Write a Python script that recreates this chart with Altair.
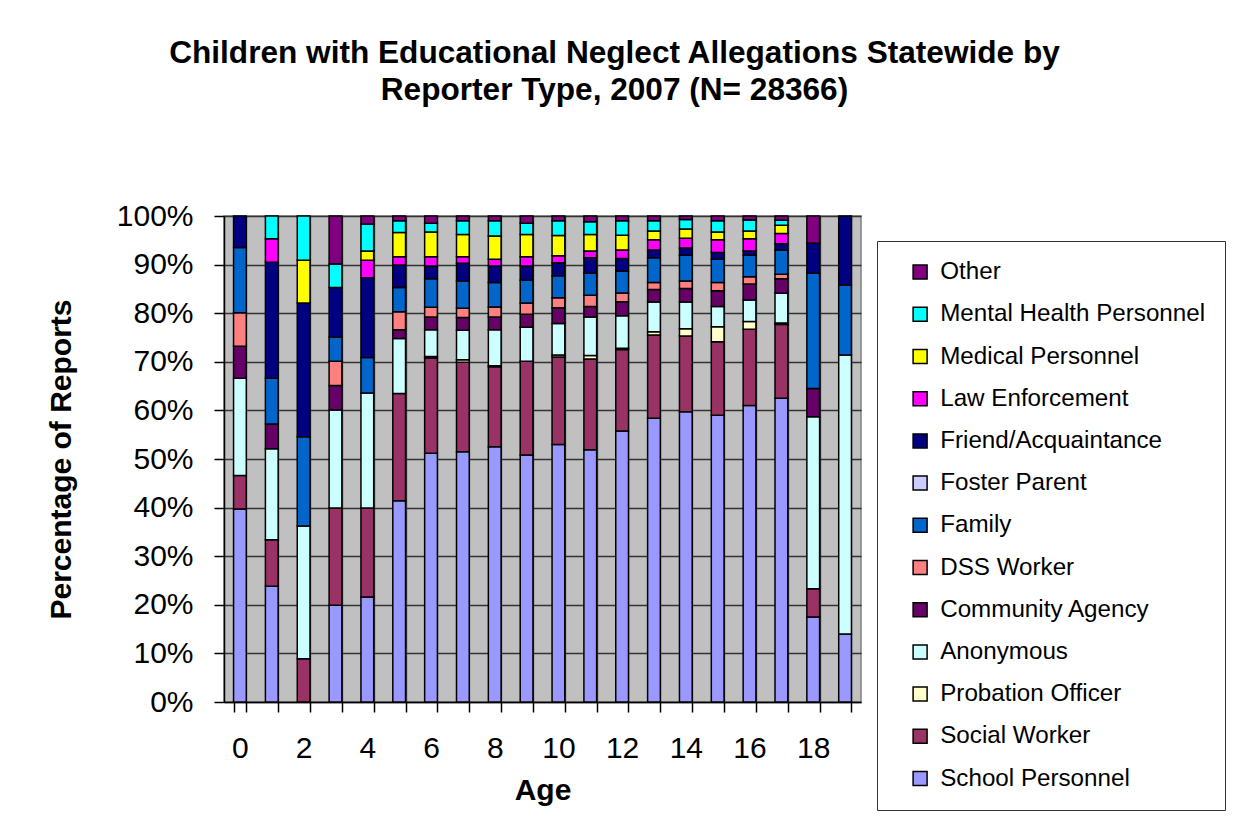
import altair as alt
import pandas as pd

ages = list(range(20))

school    = [39.7, 23.8, 0, 19.9, 21.6, 41.4, 51.2, 51.5, 52.5, 50.8, 53.0, 51.9, 56.0, 58.4, 59.7, 59.0, 61.0, 62.5, 17.5, 14.0]
social    = [6.9, 9.6, 8.9, 20.0, 18.3, 22.1, 19.6, 18.4, 16.5, 19.3, 18.0, 18.7, 16.8, 17.1, 15.6, 15.1, 15.7, 15.2, 5.8, 0]
probation = [0, 0, 0, 0, 0, 0, 0.3, 0.5, 0.2, 0, 0.4, 0.7, 0.3, 0.7, 1.5, 3.1, 1.6, 0.3, 0, 0]
anonymous = [20.0, 18.7, 27.3, 20.2, 23.7, 11.3, 5.5, 6.1, 7.4, 7.0, 6.5, 7.9, 6.7, 6.1, 5.5, 4.2, 4.4, 6.1, 35.4, 57.4]
community = [6.6, 5.1, 0, 5.0, 0, 1.8, 2.6, 2.6, 2.6, 2.7, 3.2, 2.2, 2.9, 2.6, 2.8, 3.2, 3.3, 3.0, 5.8, 0]
dss       = [6.9, 0, 0, 5.0, 0, 3.7, 2.0, 1.9, 2.1, 2.3, 2.1, 2.3, 1.8, 1.4, 1.5, 1.7, 1.5, 0.9, 0, 0]
family    = [13.4, 9.4, 18.4, 5.0, 7.3, 5.0, 5.9, 5.6, 5.0, 4.7, 4.5, 4.5, 4.5, 5.1, 5.3, 4.8, 4.4, 5.0, 23.7, 14.4]
foster    = [0] * 20
friend    = [6.5, 23.9, 27.5, 10.2, 16.4, 4.6, 2.6, 3.7, 3.4, 2.9, 2.7, 3.2, 2.6, 1.6, 1.5, 1.4, 0.9, 1.3, 6.2, 14.2]
law       = [0, 4.8, 0, 0, 3.6, 1.7, 1.9, 1.3, 1.4, 1.9, 1.4, 1.4, 1.8, 2.1, 2.0, 2.6, 2.5, 2.1, 0, 0]
medical   = [0, 0, 8.8, 0, 1.9, 5.0, 5.1, 4.6, 4.8, 4.6, 4.2, 3.4, 3.0, 1.8, 1.9, 1.6, 1.6, 1.7, 0, 0]
mental    = [0, 4.7, 9.1, 4.8, 5.5, 2.4, 1.8, 2.8, 3.1, 2.3, 3.0, 2.6, 3.0, 2.1, 2.0, 2.3, 2.3, 1.0, 0, 0]
other     = [0, 0, 0, 9.9, 1.7, 1.0, 1.5, 1.0, 1.0, 1.5, 1.0, 1.2, 1.0, 1.0, 0.7, 1.0, 0.8, 0.9, 5.6, 0]

# stacking order, bottom to top
series_names = ["School Personnel", "Social Worker", "Probation Officer", "Anonymous",
                "Community Agency", "DSS Worker", "Family", "Foster Parent",
                "Friend/Acquaintance", "Law Enforcement", "Medical Personnel",
                "Mental Health Personnel", "Other"]
series_values = [school, social, probation, anonymous, community, dss, family, foster,
                 friend, law, medical, mental, other]
series_colors = ["#9999FF", "#993366", "#FFFFCC", "#CCFFFF", "#660066", "#FF8080",
                 "#0066CC", "#CCCCFF", "#000080", "#FF00FF", "#FFFF00", "#00FFFF", "#800080"]

rows = []
for idx, (name, vals) in enumerate(zip(series_names, series_values)):
    for age, v in zip(ages, vals):
        if v > 0:
            rows.append({"age": age, "reporter": name, "value": v, "idx": idx})
df = pd.DataFrame(rows)

legend_domain = series_names[::-1]
legend_range = series_colors[::-1]

font = "Liberation Sans"

chart = alt.Chart(df).mark_bar(stroke="black", strokeWidth=1.5).encode(
    x=alt.X("age:O",
            scale=alt.Scale(paddingInner=0.6, paddingOuter=0.3),
            axis=alt.Axis(title="Age", labelAngle=0, tickBand="extent", grid=True,
                          labelExpr="datum.value % 2 === 0 ? datum.label : ''",
                          labelFontSize=30, labelPadding=21, tickSize=10,
                          titleFontSize=30, titlePadding=12)),
    y=alt.Y("value:Q", stack="normalize",
            scale=alt.Scale(domain=[0, 1]),
            axis=alt.Axis(title="Percentage of Reports", format=".0%",
                          values=[i / 10 for i in range(11)],
                          labelFontSize=30, labelPadding=21, tickSize=10,
                          titleFontSize=30, titlePadding=40)),
    color=alt.Color("reporter:N",
                    scale=alt.Scale(domain=legend_domain, range=legend_range),
                    legend=alt.Legend(title=None, orient="none", legendX=653, legendY=25,
                                      symbolType="square", symbolSize=196,
                                      symbolStrokeColor="black", symbolStrokeWidth=1.5,
                                      labelFontSize=24.2, labelFont=font, rowPadding=17.2,
                                      labelOffset=8, symbolOffset=12, padding=19,
                                      labelLimit=400,
                                      strokeColor="#333333", fillColor="white")),
    order=alt.Order("idx:Q", sort="ascending"),
).properties(
    width=637,
    height=486,
    padding={"left": 38, "top": 30, "right": 5, "bottom": 5},
    title=alt.Title(["Children with Educational Neglect Allegations Statewide by",
                     "Reporter Type, 2007 (N= 28366)"],
                    fontSize=31.6, fontWeight="bold", font=font, lineHeight=37,
                    anchor="middle", offset=94, dx=72, color="black"),
).configure_view(
    fill="#C0C0C0", stroke="#808080", strokeWidth=1.5
).configure_axis(
    labelFont=font, titleFont=font, labelColor="black", titleColor="black",
    gridColor="#333333", gridWidth=1.3, gridOpacity=1,
    domainColor="black", domainWidth=1.5, tickColor="black", tickWidth=1.5,
).configure_legend(
    labelColor="black"
)

chart.save("out.html", embed_options={"renderer": "svg", "actions": False})
